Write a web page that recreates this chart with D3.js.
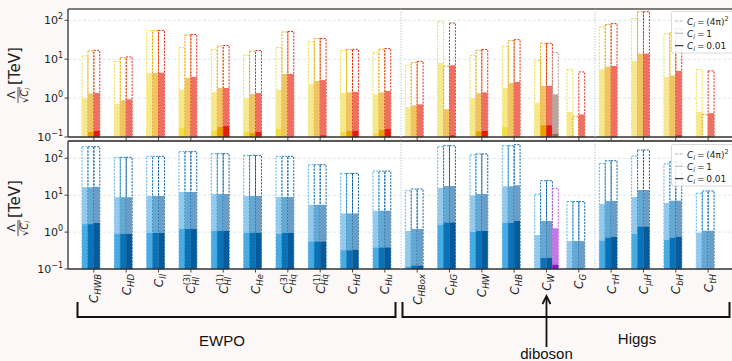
<!DOCTYPE html>
<html>
<head>
<meta charset="utf-8">
<script src="https://cdn.jsdelivr.net/npm/d3@7"></script>
<style>
  html, body { margin: 0; padding: 0; background: #fcf8f7; }
  svg { display: block; }
</style>
</head>
<body>
<svg id="chart" width="732" height="361"></svg>
<script>
// Wilson coefficients on the x axis
const coefSub = ["HWB","HD","ll","Hl","Hl","He","Hq","Hq","Hd","Hu","HBox","HG","HW","HB","W","G","τH","μH","bH","tH"];
const coefSup = ["","","","(3)","(1)","","(3)","(1)","","","","","","","","","","","",""];

// Upper panel: Λ/√C_i [TeV] for three fits, one array per C_i choice
const topYellowLoose = [12.1, 8.8, 54, 19.9, 17.7, 12.6, 19.9, 28.3, 16.9, 14.8, 7.0, 94, 12.6, 21.5, 9.2, 5.4, 67, 110, 45, 5.4];
const topYellowUnit  = [1.0, 0.70, 4.4, 1.65, 1.43, 1.0, 1.65, 2.3, 1.35, 1.25, 0.58, 8.0, 1.0, 1.82, 0.75, 0.44, 5.5, 9.0, 3.5, 0.44];
const topYellowTight = [null, null, null, 0.17, 0.143, 0.134, 0.16, null, 0.134, 0.124, null, null, null, 0.18, null, null, null, null, null, null];
const topOrangeLoose = [16.3, 11.0, 54, 41.9, 21.8, 16.0, 50, 33.9, 17.7, 18, 8.3, 6.6, 16.9, 30, 25.6, 0.34, 77.6, 166, 48, 0.38];
const topOrangeUnit  = [1.31, 0.88, 4.4, 3.3, 1.82, 1.27, 4.17, 2.76, 1.4, 1.4, 0.65, 0.52, 1.33, 2.44, 2.05, null, 6.4, 13.9, 3.8, null];
const topOrangeTight = [0.134, null, null, null, 0.18, 0.127, null, null, 0.143, 0.15, null, null, 0.14, null, 0.2, null, null, null, null, null];
const topRedLoose = [16.9, 11.4, 55, 43, 22.5, 16.7, 51.5, 34, 18, 18.7, 8.8, 85, 17.7, 31.7, 25.6, 4.7, 82, 166, 62, 5.0];
const topRedUnit  = [1.35, 0.93, 4.5, 3.5, 1.82, 1.35, 4.2, 2.9, 1.43, 1.52, 0.69, 7.0, 1.4, 2.6, 2.05, 0.38, 6.7, 13.9, 5.0, 0.41];
const topRedTight = [0.143, null, null, null, 0.19, 0.134, null, 0.11, 0.143, 0.16, null, 0.11, 0.143, null, 0.2, null, null, null, 0.11, null];
// extra diboson bar on C_W: [(4π)^2, 1, 0.01]
const topExtraIndex = 14;
const topExtraValues = [15, 1.25, 0.12];

// Lower panel: three blue fits
const botLightLoose = [206, 106, 113, 151, 133, 120, 113, 67, 39, 45, 13.2, 206, 123, 219, 10.6, 6.7, 73, 115, 70, 11.3];
const botLightUnit  = [16.4, 8.8, 9.5, 12.2, 10.8, 9.5, 8.9, 5.5, 3.2, 3.8, 1.07, 15.7, 9.9, 17.4, 0.83, 0.57, 5.8, 8.9, 6.15, 0.96];
const botLightTight = [1.63, 0.89, 0.95, 1.21, 1.07, 0.95, 0.89, 0.55, 0.32, 0.38, 0.115, 1.56, 1.0, 1.77, null, null, 0.58, 0.89, 0.61, null];
const botMidLoose = [206, 106, 113, 151, 133, 120, 113, 67, 39, 45, 14.7, 219, 131, 219, 24.7, 6.7, 86, 168, 81, 13];
const botMidUnit  = [16.4, 8.8, 9.5, 12.2, 10.8, 9.5, 8.9, 5.5, 3.2, 3.8, 1.21, 17.7, 10.8, 17.4, 2.0, 0.57, 7.0, 13.8, 7.1, 1.09];
const botMidTight = [1.63, 0.89, 0.95, 1.21, 1.07, 0.95, 0.95, 0.55, 0.32, 0.38, 0.123, 1.8, 1.07, 1.77, 0.2, null, 0.70, 1.4, 0.70, null];
const botDarkLoose = [206, 106, 113, 151, 133, 120, 113, 67, 39, 45, 14.7, 219, 131, 234, 24.7, 6.7, 86, 168, 81, 13];
const botDarkUnit  = [16.9, 8.8, 9.5, 12.2, 10.8, 9.5, 8.9, 5.5, 3.2, 3.8, 1.21, 17.7, 10.8, 18.5, 2.0, 0.57, 7.0, 13.8, 7.1, 1.09];
const botDarkTight = [1.77, 0.89, 0.95, 1.21, 1.07, 0.95, 0.95, 0.55, 0.33, 0.38, 0.123, 1.8, 1.07, 2.0, 0.2, null, 0.74, 1.4, 0.74, null];
const botExtraIndex = 14;
const botExtraValues = [15.4, 1.27, 0.13];

// y-axis decades and legend entries
const yTickExps = [-1, 0, 1, 2];
const legendValues = [["(4π)", "2"], ["1", ""], ["0.01", ""]];
const groupSeparators = [9.5, 15.5];

const svg = d3.select("#chart");
const FONT = "'DejaVu Sans', sans-serif";
const LEFT = 68, RIGHT = 734;

const x = d3.scaleLinear().domain([-0.8, 19.8]).range([LEFT, RIGHT]);
const barW = 0.183; // in category units

const panels = [
  {
    top: 9, bottom: 137,
    y: d3.scaleLog().domain([0.1, 195]).range([137, 9]),
    series: [
      { loose: topYellowLoose, unit: topYellowUnit, tight: topYellowTight, c: { dash: "#efdc3a", unit: "#f6e88d", tight: "#f1df3c" } },
      { loose: topOrangeLoose, unit: topOrangeUnit, tight: topOrangeTight, c: { dash: "#e9a40c", unit: "#f0c365", tight: "#e8a000" } },
      { loose: topRedLoose, unit: topRedUnit, tight: topRedTight, c: { dash: "#e5261a", unit: "#ef6f63", tight: "#e31b12" } }
    ],
    extra: { index: topExtraIndex, values: topExtraValues, c: { dash: "#b99a92", unit: "#b9a49e", tight: "#8f6d5c" } },
    legendY: 11.5, labelCy: 73, topSpine: "#555"
  },
  {
    top: 141, bottom: 269,
    y: d3.scaleLog().domain([0.1, 294]).range([269, 141]),
    series: [
      { loose: botLightLoose, unit: botLightUnit, tight: botLightTight, c: { dash: "#5cb0e6", unit: "#93c9ec", tight: "#48abe4" } },
      { loose: botMidLoose, unit: botMidUnit, tight: botMidTight, c: { dash: "#1b7bbd", unit: "#64a8d4", tight: "#0a72b6" } },
      { loose: botDarkLoose, unit: botDarkUnit, tight: botDarkTight, c: { dash: "#0d5e9e", unit: "#6a9ec6", tight: "#075b9b" } }
    ],
    extra: { index: botExtraIndex, values: botExtraValues, c: { dash: "#c45ee4", unit: "#c577e6", tight: "#8414c8" } },
    legendY: 144.5, labelCy: 206, topSpine: "#222"
  }
];

function drawBar(g, p, i, k, loose, unit, tight, c) {
  const x0 = x(i + (k - 2) * barW);
  const x1 = x(i + (k - 1) * barW);
  const base = p.y.range()[0];
  if (loose != null) {
    g.append("rect")
      .attr("x", x0).attr("width", x1 - x0)
      .attr("y", p.y(loose)).attr("height", base - p.y(loose))
      .attr("fill", "none").attr("stroke", c.dash)
      .attr("stroke-width", 1).attr("stroke-dasharray", "2,1.3");
  }
  if (unit != null) {
    g.append("rect")
      .attr("x", x0).attr("width", x1 - x0)
      .attr("y", p.y(unit)).attr("height", base - p.y(unit))
      .attr("fill", c.unit);
  }
  if (tight != null) {
    g.append("rect")
      .attr("x", x0).attr("width", x1 - x0)
      .attr("y", p.y(tight)).attr("height", base - p.y(tight))
      .attr("fill", c.tight);
  }
}

panels.forEach(p => {
  const g = svg.append("g");
  // plotting area
  g.append("rect").attr("x", LEFT).attr("y", p.top).attr("width", RIGHT - LEFT).attr("height", p.bottom - p.top).attr("fill", "#fff");

  // horizontal grid at decades
  g.selectAll(".grid").data(yTickExps.filter(e => e > -1)).join("line")
    .attr("x1", LEFT).attr("x2", RIGHT)
    .attr("y1", d => p.y(Math.pow(10, d))).attr("y2", d => p.y(Math.pow(10, d)))
    .attr("stroke", "#cfe2e6").attr("stroke-width", 0.8).attr("stroke-dasharray", "3,2");

  // bars
  const bars = g.append("g");
  p.series.forEach((s, k) => {
    coefSub.forEach((_, i) => drawBar(bars, p, i, k, s.loose[i], s.unit[i], s.tight[i], s.c));
  });
  drawBar(bars, p, p.extra.index, 3, p.extra.values[0], p.extra.values[1], p.extra.values[2], p.extra.c);

  // spines
  g.append("line").attr("x1", LEFT).attr("x2", RIGHT).attr("y1", p.top).attr("y2", p.top).attr("stroke", p.topSpine).attr("stroke-width", 1.3);
  g.append("line").attr("x1", LEFT).attr("x2", RIGHT).attr("y1", p.bottom).attr("y2", p.bottom).attr("stroke", "#333").attr("stroke-width", 1.3);
  g.append("line").attr("x1", LEFT).attr("x2", LEFT).attr("y1", p.top).attr("y2", p.bottom).attr("stroke", "#333").attr("stroke-width", 1.3);

  // x ticks
  g.selectAll(".xt").data(coefSub.map((_, i) => i)).join("line")
    .attr("x1", d => x(d)).attr("x2", d => x(d))
    .attr("y1", p.bottom).attr("y2", p.bottom + 3.5)
    .attr("stroke", "#333").attr("stroke-width", 0.9);

  // y ticks and labels
  yTickExps.forEach(e => {
    const yy = p.y(Math.pow(10, e));
    g.append("line").attr("x1", LEFT - 3.5).attr("x2", LEFT).attr("y1", yy).attr("y2", yy).attr("stroke", "#333").attr("stroke-width", 0.9);
    const t = g.append("text").attr("x", LEFT - 5).attr("y", yy + 4)
      .attr("text-anchor", "end").style("font-family", FONT).style("font-size", "11px").attr("fill", "#222");
    t.append("tspan").text("10");
    t.append("tspan").attr("dy", -5).style("font-size", "8px").text(e < 0 ? "−" + Math.abs(e) : String(e));
  });

  // y label: Λ/√C_i [TeV]
  const lab = g.append("g").attr("transform", `translate(18,${p.labelCy}) rotate(-90)`);
  const uc = -22;
  lab.append("text").attr("x", uc).attr("y", -3).attr("text-anchor", "middle")
    .style("font-family", FONT).style("font-size", "11px").attr("fill", "#222").text("Λ");
  lab.append("line").attr("x1", uc - 8).attr("x2", uc + 8).attr("y1", 0).attr("y2", 0).attr("stroke", "#222").attr("stroke-width", 0.8);
  const den = lab.append("text").attr("x", uc - 8).attr("y", 9.5)
    .style("font-family", FONT).style("font-size", "10px").attr("fill", "#222");
  den.append("tspan").text("√");
  den.append("tspan").style("font-style", "italic").text("C");
  den.append("tspan").attr("dy", 2).style("font-size", "7px").style("font-style", "italic").text("i");
  lab.append("line").attr("x1", uc - 1.8).attr("x2", uc + 8).attr("y1", 1.8).attr("y2", 1.8).attr("stroke", "#222").attr("stroke-width", 0.7);
  lab.append("text").attr("x", -12).attr("y", 2)
    .style("font-family", FONT).style("font-size", "15px").attr("fill", "#222").text("[TeV]");

  // legend
  const lg = g.append("g").attr("transform", `translate(671.5,${p.legendY})`);
  lg.append("rect").attr("width", 70).attr("height", 41.5).attr("rx", 2)
    .attr("fill", "#fff").attr("fill-opacity", 0.85).attr("stroke", "#d0d0d0").attr("stroke-width", 0.8);
  const samples = [
    { stroke: "#c2cedb", dash: "3,1.5" },
    { stroke: "#c8c8c8", dash: null },
    { stroke: "#444", dash: null }
  ];
  legendValues.forEach((v, j) => {
    const ry = 9.5 + j * 12.3;
    lg.append("line").attr("x1", 3.5).attr("x2", 12).attr("y1", ry).attr("y2", ry)
      .attr("stroke", samples[j].stroke).attr("stroke-width", 1.3)
      .attr("stroke-dasharray", samples[j].dash);
    const t = lg.append("text").attr("x", 15.5).attr("y", ry + 3.5)
      .style("font-family", FONT).style("font-size", "9px").attr("fill", "#222");
    t.append("tspan").style("font-style", "italic").text("C");
    t.append("tspan").attr("dy", 2).style("font-size", "6.5px").style("font-style", "italic").text("i");
    t.append("tspan").attr("dy", -2).text("\u2009=\u2009" + v[0]);
    if (v[1]) t.append("tspan").attr("dy", -4).style("font-size", "6.5px").text(v[1]);
  });
});

// dotted separators between coefficient groups
svg.selectAll(".sep").data(groupSeparators).join("line")
  .attr("x1", d => x(d)).attr("x2", d => x(d))
  .attr("y1", 9).attr("y2", 269)
  .attr("stroke", "#aebcc6").attr("stroke-width", 0.9).attr("stroke-dasharray", "1.2,1.5");

// x tick labels (lower panel)
const measure = svg.append("text").style("font-family", FONT).style("font-size", "8px").style("font-style", "italic").attr("opacity", 0);
coefSub.forEach((sub, i) => {
  const lg = svg.append("g").attr("transform", `translate(${x(i) + 4.5},274) rotate(-90)`);
  const t = lg.append("text").attr("text-anchor", "end")
    .style("font-family", FONT).style("font-style", "italic").style("font-size", "12px").attr("fill", "#222");
  t.append("tspan").text("C");
  if (coefSup[i]) {
    measure.text(coefSup[i]);
    const w = measure.node().getComputedTextLength();
    t.append("tspan").attr("dy", -5).style("font-size", "8px").style("font-style", "normal").text(coefSup[i]);
    t.append("tspan").attr("dx", -w).attr("dy", 8.5).style("font-size", "8px").text(sub);
  } else {
    t.append("tspan").attr("dy", 3).style("font-size", "8.5px").text(sub);
  }
});
measure.remove();

// group brackets under the axis
const bracketDefs = [
  { from: 77.5, to: 395.5, label: "EWPO", lx: 222, ly: 345.5 },
  { from: 402.5, to: 729.5, label: "Higgs", lx: 637, ly: 344 }
];
bracketDefs.forEach(b => {
  svg.append("path")
    .attr("d", `M${b.from},302 V317 H${b.to} V302`)
    .attr("fill", "none").attr("stroke", "#111").attr("stroke-width", 2);
  svg.append("text").attr("x", b.lx).attr("y", b.ly).attr("text-anchor", "middle")
    .style("font-family", "'Liberation Sans', Arial, sans-serif").style("font-size", "15px").attr("fill", "#111").text(b.label);
});

// diboson arrow pointing at C_W
const ax = x(topExtraIndex);
svg.append("line").attr("x1", ax).attr("x2", ax).attr("y1", 347).attr("y2", 297)
  .attr("stroke", "#111").attr("stroke-width", 1.8);
svg.append("path").attr("d", `M${ax - 4},304 L${ax},296 L${ax + 4},304`)
  .attr("fill", "none").attr("stroke", "#111").attr("stroke-width", 1.8);
svg.append("text").attr("x", ax).attr("y", 358.5).attr("text-anchor", "middle")
  .style("font-family", "'Liberation Sans', Arial, sans-serif").style("font-size", "15px").attr("fill", "#111").text("diboson");
</script>
</body>
</html>
